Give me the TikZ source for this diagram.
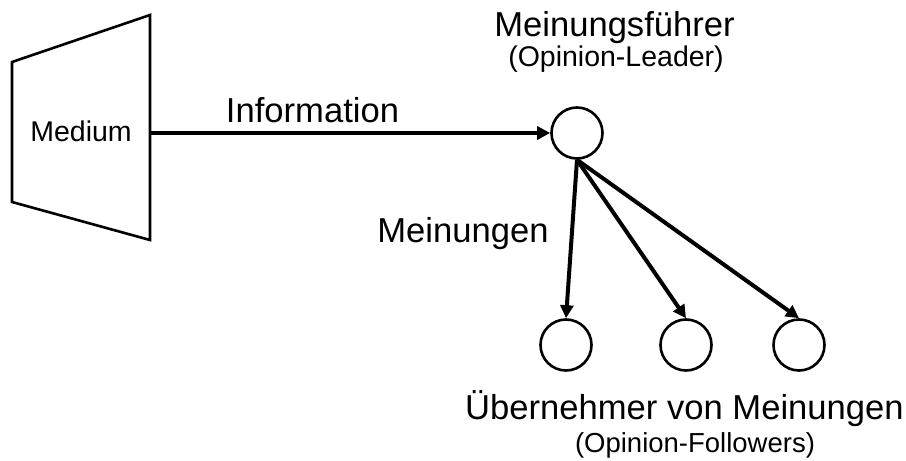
\documentclass[tikz,border=0pt]{standalone}
\usepackage{fontspec}
\setmainfont{Liberation Sans}
\usetikzlibrary{arrows.meta}
\tikzset{
  shapeline/.style={line width=2.6pt, line join=miter},
  person/.style={circle, draw, line width=2.6pt, minimum size=51pt, inner sep=0pt},
  flow/.style={line width=4pt, -{Triangle[length=13pt,width=13pt]}},
  big/.style={font=\fontsize{34.6}{40}\selectfont, inner sep=0pt, anchor=base},
  mid/.style={font=\fontsize{28.5}{33}\selectfont, inner sep=0pt, anchor=base},
  small/.style={font=\fontsize{27.5}{32}\selectfont, inner sep=0pt, anchor=base}
}
\begin{document}
\begin{tikzpicture}[x=1pt,y=-1pt]
\useasboundingbox (0,0) rectangle (906,461);
% Medium trapezoid
\draw[shapeline] (12,62) -- (150,15) -- (150,240) -- (12,202) -- cycle;
\coordinate (medR) at (150,133);
\node[mid] (medium) at (81,141.5) {Medium};
% circles
\node[person] (top) at (577,133) {};
\node[person] (f1) at (566,345) {};
\node[person] (f2) at (686,345) {};
\node[person] (f3) at (799,345) {};
% arrows
\draw[flow] (medR) -- (top.west);
\draw[flow] (top.south) -- (f1.north);
\draw[flow] (top.south) -- (f2.north);
\draw[flow] (top.south) -- (f3.north);
% labels
\node[big] (info) at (312.5,122) {Information};
\node[big] (mein) at (463,242) {Meinungen};
\node[big] (leader) at (614.5,36) {Meinungsführer};
\node[mid] (leadersub) at (616,66.5) {(Opinion-Leader)};
\node[big] (follow) at (684.5,419.5) {Übernehmer von Meinungen};
\node[small] (followsub) at (695,452.5) {(Opinion-Followers)};
\end{tikzpicture}
\end{document}
